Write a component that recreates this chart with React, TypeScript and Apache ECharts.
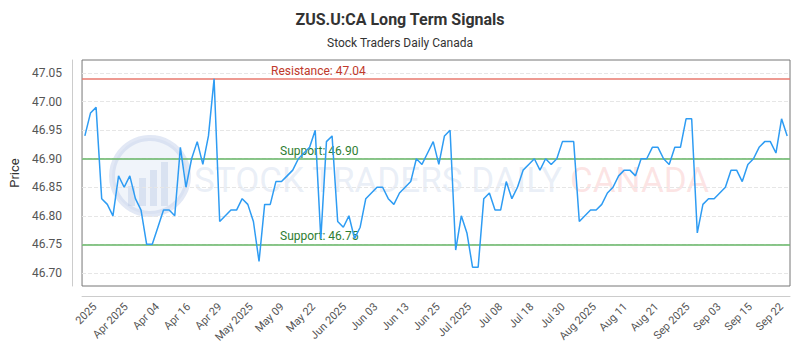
import React, { useEffect, useRef } from "react";
import * as echarts from "echarts";

const prices = [
  46.94, 46.98, 46.99, 46.83, 46.82, 46.8, 46.87, 46.85, 46.87, 46.83,
  46.81, 46.75, 46.75, 46.78, 46.81, 46.81, 46.8, 46.92, 46.85, 46.9,
  46.93, 46.89, 46.94, 47.04, 46.79, 46.8, 46.81, 46.81, 46.83, 46.82,
  46.79, 46.72, 46.82, 46.82, 46.86, 46.86, 46.87, 46.88, 46.9, 46.91,
  46.92, 46.95, 46.76, 46.93, 46.94, 46.79, 46.78, 46.8, 46.76, 46.78,
  46.83, 46.84, 46.85, 46.85, 46.83, 46.82, 46.84, 46.85, 46.86, 46.9,
  46.89, 46.91, 46.93, 46.89, 46.94, 46.95, 46.74, 46.8, 46.77, 46.71,
  46.71, 46.83, 46.84, 46.81, 46.81, 46.86, 46.83, 46.85, 46.88, 46.89,
  46.9, 46.88, 46.9, 46.89, 46.9, 46.93, 46.93, 46.93, 46.79, 46.8,
  46.81, 46.81, 46.82, 46.84, 46.85, 46.87, 46.88, 46.88, 46.87, 46.9,
  46.9, 46.92, 46.92, 46.9, 46.89, 46.92, 46.92, 46.97, 46.97, 46.77,
  46.82, 46.83, 46.83, 46.84, 46.85, 46.88, 46.88, 46.86, 46.89, 46.9,
  46.92, 46.93, 46.93, 46.91, 46.97, 46.94,
];

const tickLabels = [
  "2025", "Apr 2025", "Apr 04", "Apr 16", "Apr 29", "May 2025", "May 09",
  "May 22", "Jun 2025", "Jun 03", "Jun 13", "Jun 25", "Jul 2025", "Jul 08",
  "Jul 18", "Jul 30", "Aug 2025", "Aug 11", "Aug 21", "Sep 2025", "Sep 03",
  "Sep 15", "Sep 22",
];

const resistanceLevel = 47.04;
const supportLevels = [46.9, 46.75];

const titleText = "ZUS.U:CA Long Term Signals";
const subtitleText = "Stock Traders Daily Canada";

// trading-day category names (weekdays only)
function buildCategories(n: number): string[] {
  const out: string[] = [];
  const d = new Date(Date.UTC(2025, 2, 24));
  while (out.length < n) {
    const wd = d.getUTCDay();
    if (wd !== 0 && wd !== 6) out.push(d.toISOString().slice(0, 10));
    d.setUTCDate(d.getUTCDate() + 1);
  }
  return out;
}
const categories = buildCategories(prices.length);

export default function App() {
  const ref = useRef<HTMLDivElement>(null);
  useEffect(() => {
    if (!ref.current) return;
    const chart = echarts.init(ref.current, null, { renderer: "svg" });
    const font = "Roboto";
    const wmBlue = "rgba(190,205,230,0.32)";
    const option: any = {
      animation: false,
      textStyle: { fontFamily: font },
      title: {
        text: titleText,
        subtext: subtitleText,
        left: "center",
        top: 6,
        itemGap: 10,
        textStyle: { fontFamily: font, fontSize: 16, fontWeight: "bold", color: "#333" },
        subtextStyle: { fontFamily: font, fontSize: 12, color: "#333" },
      },
      graphic: [
        {
          type: "circle",
          silent: true,
          z: 0,
          shape: { cx: 150, cy: 176, r: 38 },
          style: { fill: "rgba(200,215,238,0.28)", stroke: "rgba(190,205,232,0.45)", lineWidth: 6 },
        },
        { type: "rect", silent: true, z: 0, shape: { x: 128, y: 186, width: 7, height: 20 }, style: { fill: "rgba(185,200,228,0.42)" } },
        { type: "rect", silent: true, z: 0, shape: { x: 139, y: 178, width: 7, height: 28 }, style: { fill: "rgba(185,200,228,0.42)" } },
        { type: "rect", silent: true, z: 0, shape: { x: 150, y: 170, width: 7, height: 36 }, style: { fill: "rgba(185,200,228,0.42)" } },
        { type: "rect", silent: true, z: 0, shape: { x: 161, y: 162, width: 7, height: 44 }, style: { fill: "rgba(185,200,228,0.42)" } },
        {
          type: "text",
          silent: true,
          z: 0,
          x: 194,
          y: 180,
          style: {
            text: "STOCK TRADERS DAILY",
            fontFamily: font,
            fontSize: 35,
            fill: wmBlue,
            align: "left",
            verticalAlign: "middle",
          },
        },
        {
          type: "text",
          silent: true,
          z: 0,
          x: 570,
          y: 180,
          style: {
            text: "CANADA",
            fontFamily: font,
            fontSize: 35,
            fill: "rgba(245,160,160,0.28)",
            align: "left",
            verticalAlign: "middle",
          },
        },
      ],
      grid: [
        { left: 77, right: 10, top: 60, bottom: 64, show: true, borderColor: "#777", borderWidth: 1, backgroundColor: "transparent" },
        { left: 95, right: 18.5, top: 60, bottom: 64 },
      ],
      xAxis: [
        {
          type: "category",
          gridIndex: 0,
          data: categories,
          boundaryGap: true,
          offset: 10,
          axisLine: { show: true, lineStyle: { color: "#ccc" } },
          axisTick: { show: false },
          axisLabel: { show: false },
          splitLine: { show: false },
        },
        {
          type: "category",
          gridIndex: 1,
          data: tickLabels,
          boundaryGap: false,
          axisLine: { show: false },
          axisTick: { show: false },
          splitLine: { show: false },
          axisLabel: {
            rotate: 45,
            interval: 0,
            margin: 19,
            fontSize: 11,
            color: "#555",
            fontFamily: font,
          },
        },
      ],
      yAxis: [
        {
          type: "value",
          gridIndex: 0,
          name: "Price",
          nameLocation: "middle",
          nameGap: 48,
          nameTextStyle: { fontSize: 13, color: "#333", fontFamily: font },
          min: (v: any) => v.min - (v.max - v.min) * 0.1,
          max: (v: any) => v.max + (v.max - v.min) * 0.1,
          splitNumber: 8,
          offset: 10,
          axisLine: { show: true, lineStyle: { color: "#ccc" } },
          axisTick: { show: false },
          axisLabel: {
            showMinLabel: false,
            showMaxLabel: false,
            fontSize: 12,
            margin: 10,
            color: "#555",
            fontFamily: font,
            formatter: (v: number) => v.toFixed(2),
          },
          splitLine: {
            show: true,
            showMinLine: false,
            showMaxLine: false,
            lineStyle: { color: "#e6e6e6", type: "dashed" },
          },
        },
        { type: "value", gridIndex: 1, show: false },
      ],
      series: [
        {
          type: "line",
          xAxisIndex: 0,
          yAxisIndex: 0,
          data: prices,
          showSymbol: false,
          symbol: "none",
          z: 5,
          lineStyle: { color: "#2e9cf3", width: 1.5 },
          markLine: {
            silent: true,
            symbol: "none",
            z: 3,
            data: [
              {
                yAxis: resistanceLevel,
                lineStyle: { color: "rgba(232,120,110,0.75)", width: 2, type: "solid" },
                label: {
                  formatter: "Resistance: " + resistanceLevel.toFixed(2),
                  position: "insideStartTop",
                  distance: [189, 2],
                  color: "#c0392b",
                  fontSize: 12,
                  fontFamily: font,
                },
              },
              ...supportLevels.map((s) => ({
                yAxis: s,
                lineStyle: { color: "rgba(110,185,110,0.8)", width: 2, type: "solid" },
                label: {
                  formatter: "Support: " + s.toFixed(2),
                  position: "insideStartTop",
                  distance: [198, 2],
                  color: "#2e7d32",
                  fontSize: 12,
                  fontFamily: font,
                },
              })),
            ],
          },
        },
      ],
    };
    chart.setOption(option);
    return () => chart.dispose();
  }, []);
  return (
    <div
      ref={ref}
      style={{ position: "absolute", left: 0, top: 0, width: 800, height: 350 }}
    />
  );
}
